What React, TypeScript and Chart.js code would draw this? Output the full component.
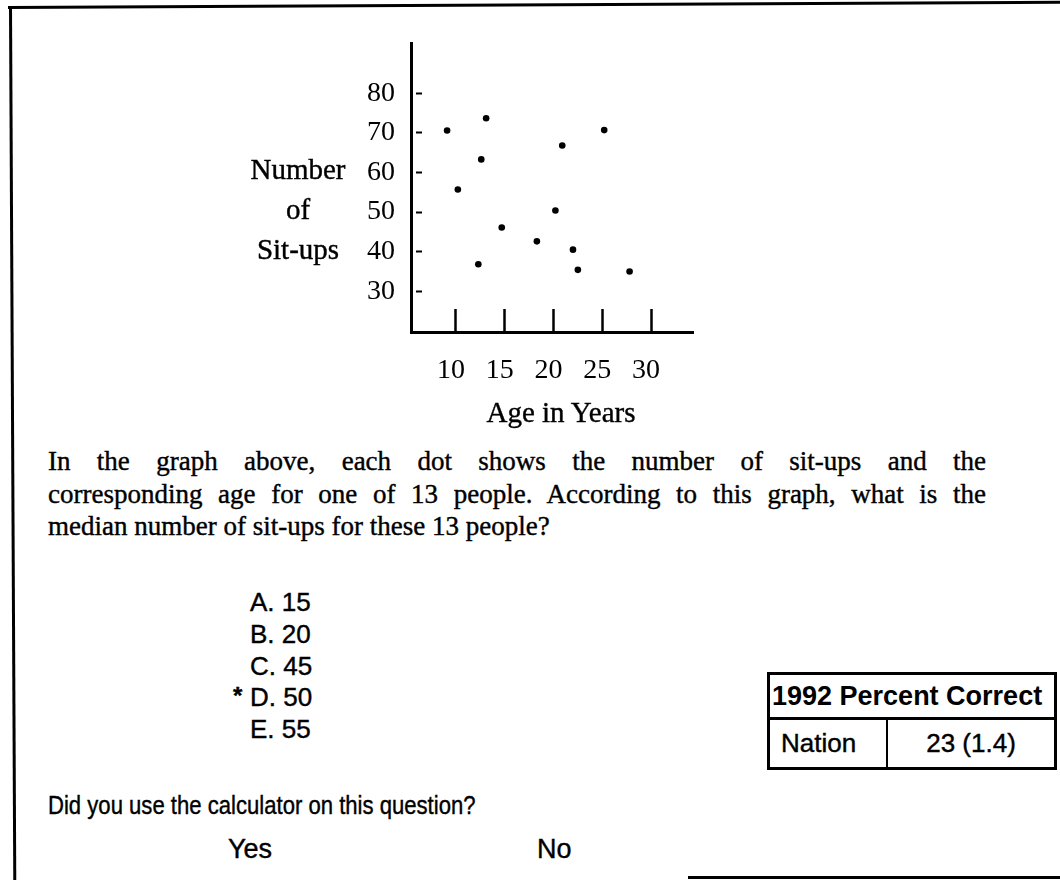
import React, { useEffect, useRef } from "react";
import { Chart, registerables } from "chart.js";

Chart.register(...registerables);

// ---- data ----
const AGES = [9.1, 13.1, 10.2, 12.6, 12.3, 14.7, 18.3, 20.2, 20.9, 22.0, 22.5, 25.2, 27.8];
const SITUPS = [70.6, 73.7, 55.7, 63.3, 36.8, 46.1, 42.6, 50.4, 66.8, 40.5, 35.4, 70.7, 35.0];
const X_TICKS = [10, 15, 20, 25, 30];
const Y_TICKS = [30, 40, 50, 60, 70, 80];
const X_MIN = 5.4;
const X_MAX = 34.3;
const Y_MIN = 19.7;
const Y_MAX = 92.5;
const Y_TITLE_LINES = ["Number", "of", "Sit-ups"];
const X_TITLE = "Age in Years";
const QUESTION_LINES = [
  "In the graph above, each dot shows the number of sit-ups and the",
  "corresponding age for one of 13 people.  According to this graph, what is the",
  "median number of sit-ups for these 13 people?",
];
const CHOICE_LETTERS = ["A", "B", "C", "D", "E"];
const CHOICE_VALUES = ["15", "20", "45", "50", "55"];
const CORRECT_LETTER = "D";
const TABLE_TITLE = "1992 Percent Correct";
const TABLE_ROW_LABEL = "Nation";
const TABLE_ROW_VALUE = "23 (1.4)";
const CALC_QUESTION = "Did you use the calculator on this question?";
const CALC_ANSWERS = ["Yes", "No"];

const SERIF = "'Liberation Serif', 'Times New Roman', Times, serif";
const SANS = "'Liberation Sans', Arial, Helvetica, sans-serif";
const INK = { WebkitTextStroke: "0.4px #000" } as React.CSSProperties;

function ScatterChart() {
  const ref = useRef<HTMLCanvasElement | null>(null);
  useEffect(() => {
    if (!ref.current) return;
    const chart = new Chart(ref.current, {
      type: "scatter",
      data: {
        datasets: [
          {
            data: AGES.map((x, i) => ({ x, y: SITUPS[i] })),
            pointRadius: 3.3,
            pointHoverRadius: 3.3,
            backgroundColor: "#000",
            borderColor: "#000",
            borderWidth: 0,
          },
        ],
      },
      options: {
        responsive: false,
        animation: false,
        devicePixelRatio: 1,
        events: [],
        layout: { padding: { left: 0, top: 38, right: 367, bottom: 0 }, autoPadding: false },
        plugins: { legend: { display: false }, tooltip: { enabled: false } },
        scales: {
          x: {
            type: "linear",
            position: "bottom",
            min: X_MIN,
            max: X_MAX,
            afterBuildTicks: (s: any) => {
              s.ticks = X_TICKS.map((v) => ({ value: v }));
            },
            afterFit: (s: any) => {
              s.height = 108;
            },
            border: { display: true, color: "#000", width: 3 },
            grid: {
              display: true,
              drawOnChartArea: false,
              drawTicks: true,
              tickLength: -23,
              tickWidth: 2.5,
              tickColor: "#000",
            },
            ticks: {
              color: "#000",
              font: { family: SERIF, size: 28 },
              padding: 45,
              labelOffset: -5,
              maxRotation: 0,
              autoSkip: false,
            },
            title: { display: false },
          },
          y: {
            type: "linear",
            position: "left",
            min: Y_MIN,
            max: Y_MAX,
            afterBuildTicks: (s: any) => {
              s.ticks = Y_TICKS.map((v) => ({ value: v }));
            },
            afterFit: (s: any) => {
              s.width = 411;
            },
            border: { display: true, color: "#000", width: 3 },
            grid: {
              display: true,
              drawOnChartArea: false,
              drawTicks: true,
              tickLength: -11,
              tickWidth: 2,
              tickColor: "#000",
              tickBorderDash: [6, 100],
            },
            ticks: {
              color: "#000",
              font: { family: SERIF, size: 28 },
              padding: 27,
              autoSkip: false,
            },
            title: { display: false },
          },
        },
      },
    });
    return () => chart.destroy();
  }, []);
  return (
    <canvas
      ref={ref}
      width={1060}
      height={440}
      style={{ position: "absolute", left: 0, top: 0, width: 1060, height: 440 }}
    />
  );
}

export default function App() {
  const abs = (s: React.CSSProperties): React.CSSProperties => ({ position: "absolute", ...s });
  return (
    <div
      style={{
        position: "fixed",
        left: 0,
        top: 0,
        width: 1060,
        height: 880,
        background: "#fff",
        overflow: "hidden",
        color: "#000",
      }}
    >
      {/* frame */}
      <div style={abs({ left: 8, top: 6, width: 1060, height: 3, background: "#000", transform: "rotate(-0.28deg)", transformOrigin: "0 50%" })} />
      <div style={abs({ left: 9, top: 6, width: 3, height: 880, background: "#000", transform: "rotate(-0.28deg)", transformOrigin: "50% 0" })} />
      <div style={abs({ left: 688, top: 876, width: 372, height: 3, background: "#000" })} />

      <ScatterChart />

      {/* y-axis title */}
      <div style={abs({ left: 238, top: 149, width: 120, textAlign: "center", fontFamily: SERIF, fontSize: 29, lineHeight: "40px", ...INK })}>
        {Y_TITLE_LINES.map((t) => (
          <div key={t}>{t}</div>
        ))}
      </div>
      {/* x-axis title */}
      <div style={abs({ left: 461, top: 392, width: 200, textAlign: "center", fontFamily: SERIF, fontSize: 29, lineHeight: "40px", ...INK })}>
        {X_TITLE}
      </div>

      {/* question */}
      {QUESTION_LINES.map((t, i) => (
        <div
          key={i}
          style={abs({
            left: 48,
            top: 443 + i * 32.5,
            width: 938,
            fontFamily: SERIF,
            fontSize: 27,
            lineHeight: "36px",
            whiteSpace: "pre",
            textAlign: i < 2 ? "justify" : "left",
            textAlignLast: i < 2 ? "justify" : "left",
            ...INK,
          } as React.CSSProperties)}
        >
          {i < 2 ? t.replace(/  /g, " ") : t}
        </div>
      ))}

      {/* choices */}
      {CHOICE_LETTERS.map((l, i) => (
        <div
          key={l}
          style={abs({ left: 250, top: 602 - 16 + i * 31.8, fontFamily: SANS, fontSize: 26, lineHeight: "32px", whiteSpace: "pre", ...INK })}
        >
          {l === CORRECT_LETTER && (
            <span style={{ position: "absolute", left: -17, top: -1, fontWeight: "bold", fontSize: 24 }}>*</span>
          )}
          {l + ". " + CHOICE_VALUES[i]}
        </div>
      ))}

      {/* percent correct table */}
      <table
        style={abs({
          left: 767,
          top: 672,
          width: 290,
          borderCollapse: "collapse",
          fontFamily: SANS,
          fontSize: 26,
        })}
      >
        <tbody>
          <tr style={{ height: 45 }}>
            <td
              colSpan={2}
              style={{ border: "3px solid #000", fontWeight: "bold", fontSize: 27, padding: "0 0 0 2px", whiteSpace: "nowrap" }}
            >
              {TABLE_TITLE}
            </td>
          </tr>
          <tr style={{ height: 50 }}>
            <td style={{ border: "3px solid #000", borderRightWidth: 2, borderTopWidth: 2, padding: "0 0 0 11px", width: 105, ...INK }}>
              {TABLE_ROW_LABEL}
            </td>
            <td style={{ border: "3px solid #000", borderLeftWidth: 2, borderTopWidth: 2, textAlign: "center", ...INK }}>
              {TABLE_ROW_VALUE}
            </td>
          </tr>
        </tbody>
      </table>

      {/* calculator question */}
      <div
        style={abs({
          left: 48,
          top: 805 - 16,
          fontFamily: SANS,
          fontSize: 26,
          lineHeight: "32px",
          whiteSpace: "pre",
          transform: "scaleX(0.85)",
          transformOrigin: "0 50%",
          ...INK,
        })}
      >
        {CALC_QUESTION}
      </div>
      <div style={abs({ left: 228, top: 849 - 16, fontFamily: SANS, fontSize: 27, lineHeight: "32px", ...INK })}>{CALC_ANSWERS[0]}</div>
      <div style={abs({ left: 537, top: 849 - 16, fontFamily: SANS, fontSize: 27, lineHeight: "32px", ...INK })}>{CALC_ANSWERS[1]}</div>
    </div>
  );
}
